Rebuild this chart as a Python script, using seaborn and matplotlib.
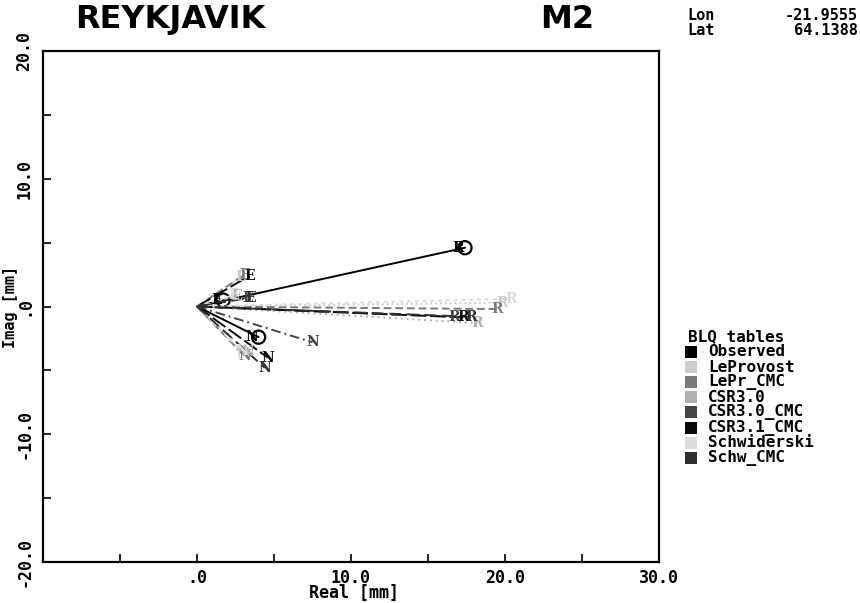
import matplotlib
matplotlib.use("Agg")
import matplotlib.pyplot as plt
import seaborn as sns
import pandas as pd
from matplotlib.patches import Rectangle
from matplotlib.ticker import FixedLocator

# ---------------- data ----------------
models = ["Observed", "LeProvost", "LePr_CMC", "CSR3.0",
          "CSR3.0_CMC", "CSR3.1_CMC", "Schwiderski", "Schw_CMC"]
colors = ["#000000", "#cccccc", "#7a7a7a", "#b0b0b0",
          "#454545", "#0a0a0a", "#dcdcdc", "#303030"]
components = ["R", "E", "N"]
# vector end points (Real, Imag) in mm for each model
R_real = [17.4, 19.8, 19.5, 18.2, 16.7, 17.3, 20.4, 17.8]
R_imag = [4.6, 0.3, -0.2, -1.3, -0.8, -0.85, 0.6, -0.8]
E_real = [1.7, 2.8, 3.1, 2.6, 3.3, 3.4, 2.4, 3.5]
E_imag = [0.5, 2.3, 2.5, 0.8, 0.7, 2.4, 0.9, 0.7]
N_real = [4.0, 3.0, 3.1, 3.3, 7.5, 4.6, 2.9, 4.4]
N_imag = [-2.4, -3.7, -3.9, -3.6, -2.8, -4.0, -3.5, -4.8]

x_ticks = [0, 10, 20, 30]
x_ticklabels = [".0", "10.0", "20.0", "30.0"]
y_ticks = [-20, -10, 0, 10, 20]
y_ticklabels = ["-20.0", "-10.0", ".0", "10.0", "20.0"]

station = "REYKJAVIK"
wave = "M2"
lon_txt = "-21.9555"
lat_txt = "64.1388"

# ---------------- build table ----------------
ends = {"R": (R_real, R_imag), "E": (E_real, E_imag), "N": (N_real, N_imag)}
rows = []
for i, m in enumerate(models):
    for c in components:
        xr, yi = ends[c][0][i], ends[c][1][i]
        rows.append(dict(model=m, comp=c, vec=m + c, real=0.0, imag=0.0, order=0))
        rows.append(dict(model=m, comp=c, vec=m + c, real=xr, imag=yi, order=1))
df = pd.DataFrame(rows)
end_df = df[df["order"] == 1]

sns.set_style("white")
mono = ["DejaVu Sans Mono"]
plt.rcParams["font.family"] = mono
plt.rcParams["font.weight"] = "bold"
for k in ["text.color", "axes.labelcolor", "xtick.color", "ytick.color",
          "axes.edgecolor"]:
    plt.rcParams[k] = "black"

fig = plt.figure(figsize=(8.6, 6.03), dpi=100)
ax = fig.add_axes([43 / 860, 1 - 562 / 603, 616 / 860, 511 / 603])

palette = dict(zip(models, colors))
dash_list = ["", (1, 1.5), (4, 2), (1, 2), (5, 2, 1, 2), (8, 2), (2, 2), (6, 3)]
dashes = dict(zip(models, dash_list))

sns.lineplot(data=df, x="real", y="imag", hue="model", style="model",
             units="vec", estimator=None, sort=False, palette=palette,
             dashes=dashes, linewidth=1.4, legend=False, ax=ax)

# observed error circles
obs = end_df[end_df["model"] == "Observed"]
sns.scatterplot(data=obs, x="real", y="imag", marker="o", s=90,
                facecolor="none", edgecolor="black", linewidth=1.6,
                legend=False, ax=ax)

# component letters at the vector ends
for _, r in end_df.iterrows():
    dx = -5 if r["model"] == "Observed" else 0
    ax.annotate(r["comp"], (r["real"], r["imag"]), xytext=(dx, 0),
                textcoords="offset points", ha="center", va="center",
                fontsize=10, fontweight="bold", family="DejaVu Serif",
                color=palette[r["model"]])

ax.set_xlim(-10, 30)
ax.set_ylim(-20, 20)
ax.xaxis.set_major_locator(FixedLocator(x_ticks))
ax.yaxis.set_major_locator(FixedLocator(y_ticks))
ax.xaxis.set_minor_locator(FixedLocator([-5, 5, 15, 25]))
ax.yaxis.set_minor_locator(FixedLocator([-15, -5, 5, 15]))
ax.set_xticklabels(x_ticklabels)
ax.set_yticklabels(y_ticklabels)
ax.tick_params(which="both", direction="in", length=6, width=1.2,
               color="black", bottom=True, left=True, top=False, right=False)
ax.tick_params(axis="x", pad=5, labelsize=12)
ax.tick_params(axis="y", pad=7, labelsize=12, labelrotation=90)
for lab in ax.get_yticklabels():
    lab.set_va("center")
for s in ax.spines.values():
    s.set_visible(True)
    s.set_color("black")
    s.set_linewidth(1.6)

ax.set_xlabel("Real [mm]", fontsize=12, fontweight="bold")
ax.set_ylabel("Imag [mm]", fontsize=11, fontweight="bold")
ax.xaxis.set_label_coords(0.505, -0.043)
ax.yaxis.set_label_coords(-0.040, 0.5)

# header texts
fig.text(75 / 860, 1 - 28 / 603, station, fontsize=23, fontweight="bold",
         family=["DejaVu Sans"], va="baseline", ha="left")
fig.text(540 / 860, 1 - 28 / 603, wave, fontsize=23, fontweight="bold",
         family=["DejaVu Sans"], va="baseline", ha="left")
fig.text(687 / 860, 1 - 20 / 603, "Lon", fontsize=11, fontweight="bold",
         va="baseline", ha="left")
fig.text(858 / 860, 1 - 20 / 603, lon_txt, fontsize=11, fontweight="bold",
         va="baseline", ha="right")
fig.text(687 / 860, 1 - 35 / 603, "Lat", fontsize=11, fontweight="bold",
         va="baseline", ha="left")
fig.text(858 / 860, 1 - 35 / 603, lat_txt, fontsize=11, fontweight="bold",
         va="baseline", ha="right")

# legend
fig.text(688 / 860, 1 - 337 / 603, "BLQ tables", fontsize=11.5,
         fontweight="bold", va="center", ha="left")
for i, (m, c) in enumerate(zip(models, colors)):
    yc = 352 + 15.1 * i
    fig.patches.append(Rectangle((685 / 860, 1 - (yc + 6) / 603), 12 / 860,
                                 12 / 603, transform=fig.transFigure,
                                 facecolor=c, edgecolor="none"))
    fig.text(708 / 860, 1 - yc / 603, m, fontsize=11.5, fontweight="bold",
             va="center", ha="left")

fig.savefig("out.png", dpi=100)
